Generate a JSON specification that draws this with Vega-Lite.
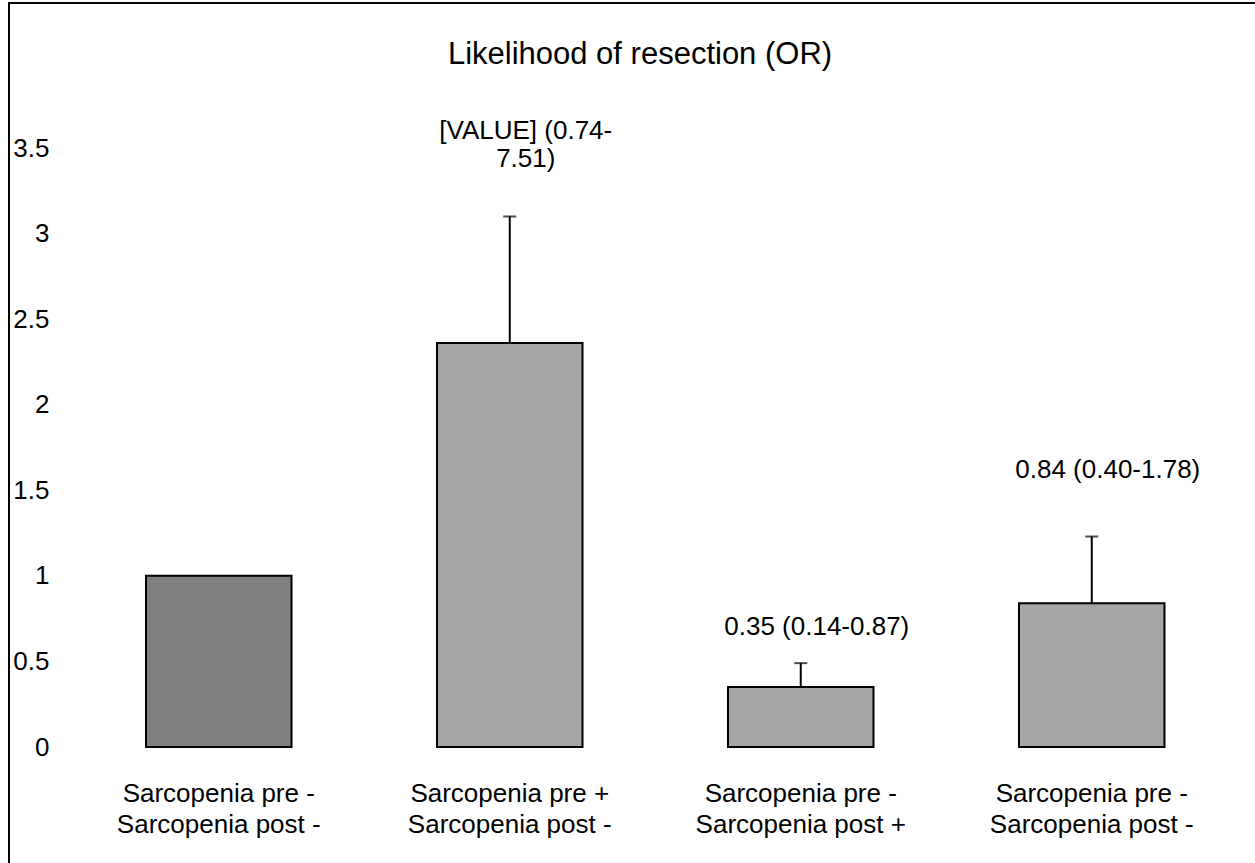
{
  "$schema": "https://vega.github.io/schema/vega-lite/v6.json",
  "autosize": "none",
  "width": 1250,
  "height": 865,
  "padding": {"left": 9, "top": 3, "right": 0, "bottom": 0},
  "background": "white",
  "config": {
    "font": "Liberation Sans",
    "view": {"stroke": "black", "strokeWidth": 2}
  },
  "title": {
    "text": "Likelihood of resection (OR)",
    "fontSize": 31,
    "fontWeight": "normal",
    "color": "black",
    "anchor": "middle",
    "frame": "group",
    "baseline": "alphabetic",
    "offset": -92,
    "dx": 6
  },
  "data": {
    "values": [
      {"group": "1|Sarcopenia pre -|Sarcopenia post -", "odds_ratio": 1.0, "upper": null, "label": null, "label_y": null, "role": "Reference"},
      {"group": "2|Sarcopenia pre +|Sarcopenia post -", "odds_ratio": 2.36, "upper": 3.1, "label": "[VALUE] (0.74-\n7.51)", "label_y": 3.6, "role": "Comparison"},
      {"group": "3|Sarcopenia pre -|Sarcopenia post +", "odds_ratio": 0.35, "upper": 0.49, "label": "0.35 (0.14-0.87)", "label_y": 0.7, "role": "Comparison"},
      {"group": "4|Sarcopenia pre -|Sarcopenia post -", "odds_ratio": 0.84, "upper": 1.23, "label": "0.84 (0.40-1.78)", "label_y": 1.62, "role": "Comparison"}
    ]
  },
  "encoding": {
    "x": {
      "field": "group",
      "type": "nominal",
      "sort": null,
      "scale": {"paddingInner": 0.5, "paddingOuter": 0.3978, "align": 0.5918},
      "axis": {
        "title": null,
        "orient": "bottom",
        "offset": -121,
        "domain": false,
        "ticks": false,
        "tickSize": 0,
        "labelPadding": 33,
        "labelFontSize": 26,
        "labelLineHeight": 31,
        "labelLimit": 0,
        "labelColor": "black",
        "labelAngle": 0,
        "labelBaseline": "top",
        "labelExpr": "slice(split(datum.label, '|'), 1)"
      }
    }
  },
  "layer": [
    {
      "mark": {"type": "bar", "stroke": "black", "strokeWidth": 2},
      "encoding": {
        "y": {
          "field": "odds_ratio",
          "type": "quantitative",
          "scale": {"domain": [-0.707, 4.3473], "nice": false, "zero": false},
          "axis": {
            "title": null,
            "values": [0, 0.5, 1, 1.5, 2, 2.5, 3, 3.5],
            "format": "~g",
            "grid": false,
            "domain": false,
            "ticks": false,
            "tickSize": 0,
            "offset": -40,
            "labelPadding": 0,
            "labelFontSize": 26,
            "labelColor": "black",
            "labelAlign": "right",
            "labelBaseline": "middle"
          }
        },
        "y2": {"datum": 0},
        "color": {
          "field": "role",
          "type": "nominal",
          "scale": {"domain": ["Reference", "Comparison"], "range": ["#7f7f7f", "#a5a5a5"]},
          "legend": null
        }
      }
    },
    {
      "transform": [{"filter": "datum.upper != null"}],
      "mark": {"type": "rule", "strokeWidth": 2, "color": "black"},
      "encoding": {
        "y": {"field": "odds_ratio", "type": "quantitative"},
        "y2": {"field": "upper"}
      }
    },
    {
      "transform": [{"filter": "datum.upper != null"}],
      "mark": {"type": "tick", "size": 13, "thickness": 2, "color": "black"},
      "encoding": {
        "y": {"field": "upper", "type": "quantitative"}
      }
    },
    {
      "transform": [{"filter": "datum.label != null"}],
      "mark": {"type": "text", "fontSize": 26, "lineHeight": 28, "lineBreak": "\n", "baseline": "middle", "align": "center", "dx": 16, "color": "black"},
      "encoding": {
        "y": {"field": "label_y", "type": "quantitative"},
        "text": {"field": "label", "type": "nominal"}
      }
    }
  ]
}
